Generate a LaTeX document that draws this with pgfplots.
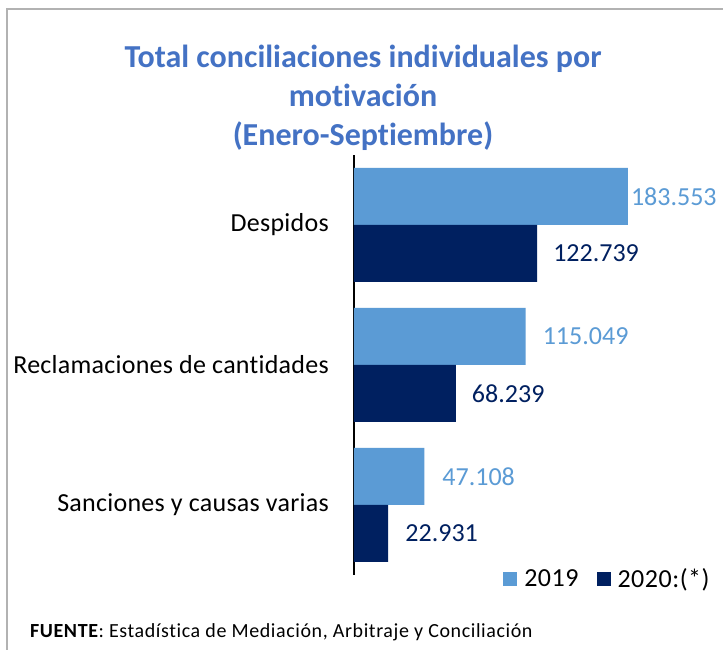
\documentclass[border=0pt]{standalone}
\usepackage{fontspec}
\setmainfont{Carlito}[RawFeature={-liga;-clig;-calt;-dlig}]
\usepackage{pgfplots}
\pgfplotsset{compat=1.18}
\definecolor{c2019}{HTML}{5B9BD5}
\definecolor{c2020}{HTML}{002060}
\definecolor{ctitle}{HTML}{4472C4}

\begin{document}
\begin{tikzpicture}[x=1pt,y=1pt]
\useasboundingbox (0,0) rectangle (723,650);
\fill[white] (0,0) rectangle (723,650);
\draw[line width=2pt, color=black!30] (7,641) rectangle (760,-20);

\node[align=center, text=ctitle, font=\fontsize{32}{39}\selectfont\bfseries]
  at (363,552) {Total conciliaciones individuales por\\motivación\\(Enero-Septiembre)};

% y: 2 = Despidos, 1 = Reclamaciones, 0 = Sanciones; dx = label offset (pt)
\begin{axis}[
  at={(354pt,75pt)}, anchor=south west,
  scale only axis, width=358pt, height=420pt,
  xbar, bar width=57pt,
  xmin=0, xmax=240000,
  ymin=-0.5, ymax=2.5,
  axis y line=left, axis x line=none,
  axis line style={-, line width=1.2pt, black},
  ytick={0,1,2},
  yticklabels={Sanciones y causas varias, Reclamaciones de cantidades, Despidos},
  major tick length=0pt,
  yticklabel style={font=\fontsize{26}{30}\selectfont\addfontfeature{LetterSpace=1}, inner sep=0pt, xshift=-25pt},
  point meta=x,
  nodes near coords,
  /pgf/number format/.cd, fixed, precision=0, 1000 sep={.}, assume math mode=true,
  /pgfplots/.cd,
  visualization depends on={\thisrow{dx} \as \dx},
  nodes near coords style={font=\fontsize{26}{30}\selectfont, anchor=west, inner sep=0pt, xshift=\dx pt},
  legend style={at={(0.408,-0.01)}, anchor=west, draw=none, fill=none,
    legend columns=2, font=\fontsize{26}{30}\selectfont\addfontfeature{LetterSpace=2},
    /tikz/every odd column/.append style={column sep=5pt},
    /tikz/every even column/.append style={column sep=16pt}},
  legend image code/.code={\fill[#1] (0pt,-7pt) rectangle (14pt,7pt);},
]
\addplot[fill=c2019, draw=none, bar shift=28.5pt, nodes near coords style={text=c2019}]
  table[x=v, y=y] {
  y v dx
  2 183553 3
  1 115049 17
  0 47108 18
  };
\addplot[fill=c2020, draw=none, bar shift=-28.5pt, nodes near coords style={text=c2020}]
  table[x=v, y=y] {
  y v dx
  2 122739 16
  1 68239 16
  0 22931 17
  };
\legend{2019, 2020:(*)}
\end{axis}

\node[anchor=west, font=\fontsize{20}{24}\selectfont\addfontfeature{LetterSpace=3}, inner sep=0pt]
  at (30,18) {\textbf{FUENTE}: Estadística de Mediación, Arbitraje y Conciliación};
\end{tikzpicture}
\end{document}
